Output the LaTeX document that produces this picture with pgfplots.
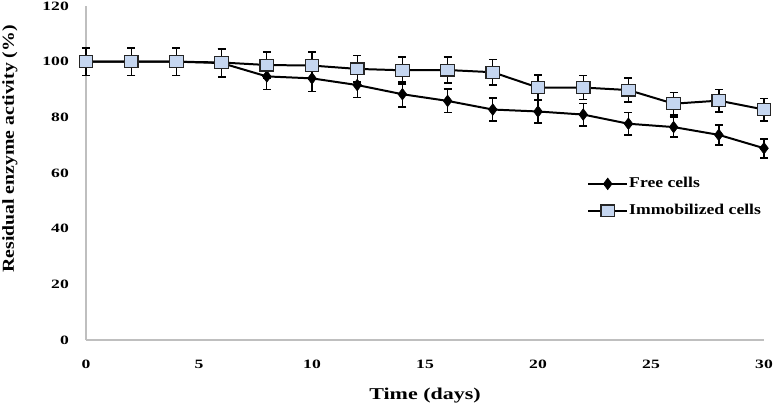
\documentclass[border=0pt]{standalone}
\usepackage{pgfplots}
\pgfplotsset{compat=1.18}
\usepackage{fontspec}
\setmainfont{Liberation Serif}
\newfontfamily\wideserif[FakeStretch=1.33]{Liberation Serif}
\newfontfamily\ylabserif[FakeStretch=1.18]{Liberation Serif}
\newfontfamily\tickserif[FakeStretch=1.38]{Liberation Serif}
\newfontfamily\legserif[FakeStretch=1.18]{Liberation Serif}
\definecolor{sqfill}{HTML}{C5D6F0}
\definecolor{axgray}{HTML}{BFBFBF}
\begin{document}
\begin{tikzpicture}
\begin{axis}[
  at={(0,0)}, anchor=south west,
  scale only axis, width=678bp, height=334bp,
  xmin=0, xmax=30, ymin=0, ymax=120,
  axis x line*=bottom, axis y line*=left,
  axis line style={axgray, line width=1.4pt, -},
  major tick length=0pt,
  xtick={0,5,...,30}, ytick={0,20,...,120},
  /pgf/number format/assume math mode=true,
  tick label style={font=\tickserif\bfseries\fontsize{12.8}{12.8}\selectfont, inner sep=0pt},
  xticklabel style={anchor=north, yshift=-20bp},
  yticklabel style={anchor=east, xshift=-17bp},
  xlabel={Time (days)}, ylabel={Residual enzyme activity (\%)},
  xlabel style={font=\wideserif\bfseries\fontsize{16.6}{16.6}\selectfont, inner sep=0pt,
    at={(rel axis cs:0.5,0)}, anchor=base, yshift=-59bp},
  ylabel style={font=\ylabserif\bfseries\fontsize{16.8}{16.8}\selectfont, inner sep=0pt,
    at={(rel axis cs:0,0.572)}, anchor=north, yshift=84bp},
  legend style={at={(0.739,0.427)}, anchor=west, draw=none, fill=none,
    font=\legserif\bfseries\fontsize{15}{15}\selectfont, row sep=14bp, inner sep=0pt,
    nodes={inner xsep=1bp, inner ysep=0pt, text height=10bp, text depth=3bp}},
  legend cell align=left,
  legend image code/.code={
    \draw[mark repeat=2,mark phase=2,#1] plot coordinates {(0bp,0bp) (19.5bp,0bp) (39bp,0bp)};},
  clip=false,
]
\addplot[black, line width=2pt, mark=diamond*, mark size=5.8bp, mark options={fill=black, line width=0.6pt},
  error bars/.cd, y dir=both, y explicit,
  error bar style={line width=1.4pt, black},
  error mark options={rotate=90, mark size=4bp, line width=1.8pt, black}]
table[x=x, y=y, y error=e] {
x y e
0 100 5
2 100 5
4 100 5
6 99.5 5
8 94.7 4.7
10 94.0 4.7
12 91.6 4.5
14 88.3 4.5
16 85.9 4.2
18 82.8 4.2
20 82.1 4.0
22 81.0 4.0
24 77.7 4.0
26 76.5 3.7
28 73.7 3.6
30 68.9 3.4
};
\addlegendentry{Free cells}
\addplot[black, line width=2pt, mark=square*, mark size=5.9bp, mark options={fill=sqfill, draw=black!85, line width=1.2pt, xscale=1.15},
  error bars/.cd, y dir=both, y explicit,
  error bar style={line width=1.4pt, black},
  error mark options={rotate=90, mark size=4bp, line width=1.8pt, black}]
table[x=x, y=y, y error=e] {
x y e
0 100 5
2 100 5
4 100 5
6 99.7 5
8 98.8 4.8
10 98.6 4.8
12 97.4 4.8
14 96.9 4.8
16 97.0 4.8
18 96.2 4.6
20 90.7 4.6
22 90.7 4.3
24 89.8 4.3
26 84.9 4.0
28 86.0 4.0
30 82.8 4.0
};
\addlegendentry{Immobilized cells}
\end{axis}
\pgfresetboundingbox
\useasboundingbox (-86bp,-66bp) rectangle (688bp,340bp);
\end{tikzpicture}
\end{document}
